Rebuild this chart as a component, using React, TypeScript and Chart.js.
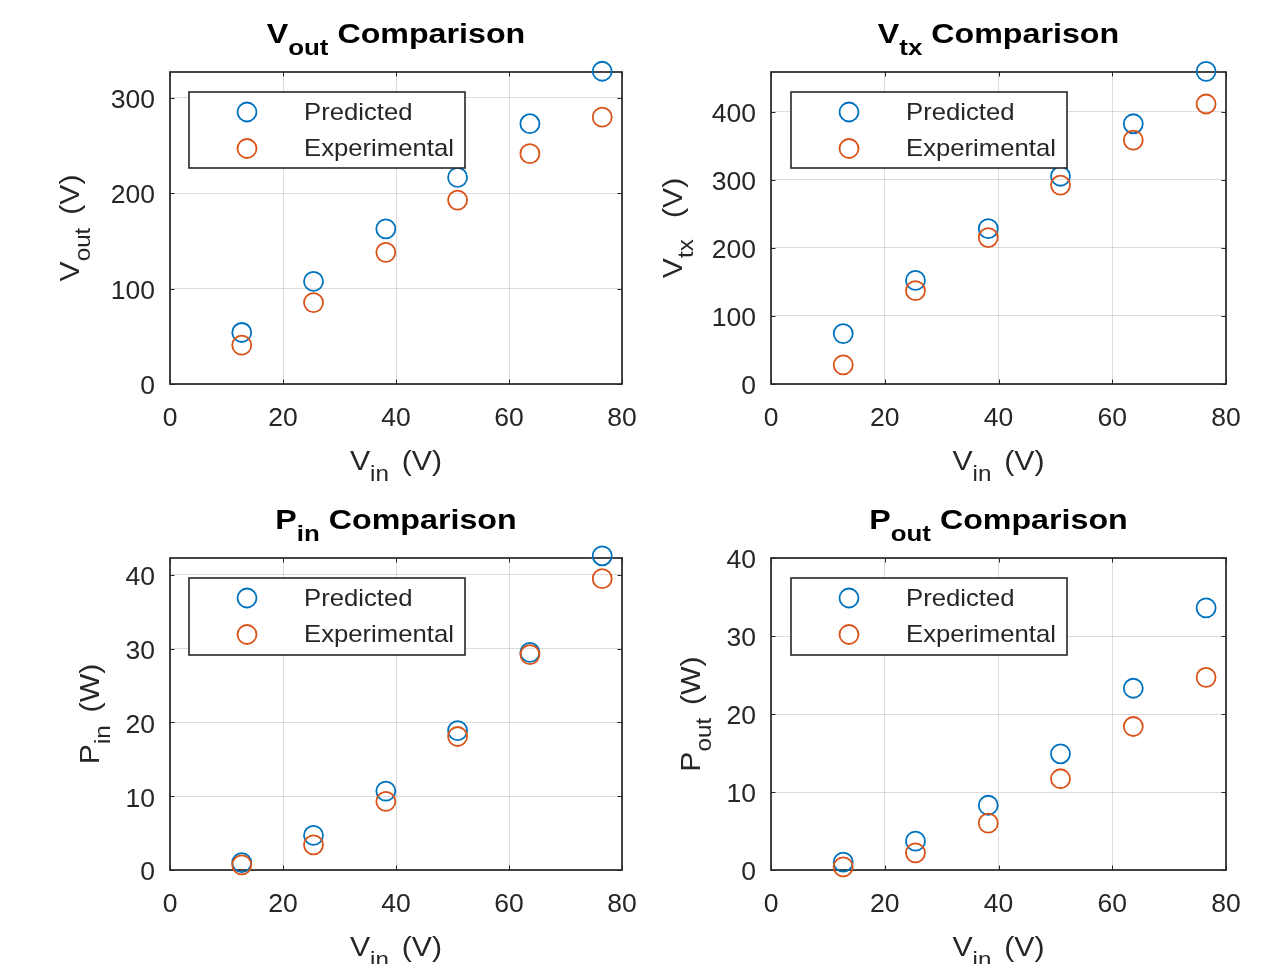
import React, { useEffect, useRef } from 'react';
import { Chart, registerables } from 'chart.js';

Chart.register(...registerables);

const W = 1277;
const H = 964;
const BLUE = '#0072BD';
const ORANGE = '#D95319';
const INK = '#262626';
const FONT = "'Liberation Sans', Arial, Helvetica, sans-serif";

// ---- data ----
const VIN = [12.7, 25.4, 38.2, 50.9, 63.7, 76.5];
const VOUT_PRED = [54, 107.5, 162.5, 216.5, 272.8, 327.8];
const VOUT_EXP = [40.7, 85.3, 138, 192.8, 241.4, 279.7];
const VTX_PRED = [74, 152, 228, 305, 382, 459];
const VTX_EXP = [28, 137, 215, 292, 358, 411];
const PIN_PRED = [1.0, 4.7, 10.7, 18.9, 29.5, 42.6];
const PIN_EXP = [0.7, 3.4, 9.3, 18.1, 29.2, 39.5];
const POUT_PRED = [1.0, 3.7, 8.3, 14.9, 23.3, 33.6];
const POUT_EXP = [0.4, 2.2, 6.0, 11.7, 18.4, 24.7];
const SERIES_LABELS = ['Predicted', 'Experimental'];
const X_MIN = 0;
const X_MAX = 80;
const X_STEP = 20;

type Part = { t: string; sub?: boolean };

interface PanelSpec {
  key: string;
  rect: { l: number; r: number; t: number; b: number };
  pred: number[];
  exp: number[];
  yMax: number;
  yStep: number;
  title: Part[];
  ylabel: Part[];
  ylabelX: number;
  legend: { l: number; t: number; w: number; h: number };
}

const PANELS: PanelSpec[] = [
  {
    key: 'vout',
    rect: { l: 170, r: 622, t: 72, b: 384 },
    pred: VOUT_PRED,
    exp: VOUT_EXP,
    yMax: 327,
    yStep: 100,
    title: [{ t: 'V' }, { t: 'out', sub: true }, { t: ' Comparison' }],
    ylabel: [{ t: 'V' }, { t: 'out', sub: true }, { t: ' (V)' }],
    ylabelX: 79,
    legend: { l: 189, t: 92, w: 276, h: 76 },
  },
  {
    key: 'vtx',
    rect: { l: 771, r: 1226, t: 72, b: 384 },
    pred: VTX_PRED,
    exp: VTX_EXP,
    yMax: 458,
    yStep: 100,
    title: [{ t: 'V' }, { t: 'tx', sub: true }, { t: ' Comparison' }],
    ylabel: [{ t: 'V' }, { t: 'tx', sub: true }, { t: '  (V)' }],
    ylabelX: 682,
    legend: { l: 791, t: 92, w: 276, h: 76 },
  },
  {
    key: 'pin',
    rect: { l: 170, r: 622, t: 558, b: 870 },
    pred: PIN_PRED,
    exp: PIN_EXP,
    yMax: 42.3,
    yStep: 10,
    title: [{ t: 'P' }, { t: 'in', sub: true }, { t: ' Comparison' }],
    ylabel: [{ t: 'P' }, { t: 'in', sub: true }, { t: ' (W)' }],
    ylabelX: 99,
    legend: { l: 189, t: 578, w: 276, h: 77 },
  },
  {
    key: 'pout',
    rect: { l: 771, r: 1226, t: 558, b: 870 },
    pred: POUT_PRED,
    exp: POUT_EXP,
    yMax: 40,
    yStep: 10,
    title: [{ t: 'P' }, { t: 'out', sub: true }, { t: ' Comparison' }],
    ylabel: [{ t: 'P' }, { t: 'out', sub: true }, { t: ' (W)' }],
    ylabelX: 700,
    legend: { l: 791, t: 578, w: 276, h: 77 },
  },
];

function drawRich(
  ctx: CanvasRenderingContext2D,
  parts: Part[],
  size: number,
  subSize: number,
  subDy: number,
  bold: boolean,
  stretch: number,
  color: string,
  subPad: number
) {
  ctx.save();
  ctx.scale(stretch, 1);
  const fontFor = (p: Part) => `${bold ? 'bold ' : ''}${p.sub ? subSize : size}px ${FONT}`;
  const widths = parts.map((p) => {
    ctx.font = fontFor(p);
    return ctx.measureText(p.t).width + (p.sub ? subPad : 0);
  });
  const total = widths.reduce((a, b) => a + b, 0);
  let x = -total / 2;
  ctx.textAlign = 'left';
  ctx.textBaseline = 'alphabetic';
  ctx.fillStyle = color;
  parts.forEach((p, i) => {
    ctx.font = fontFor(p);
    ctx.fillText(p.t, x, p.sub ? subDy : 0);
    x += widths[i];
  });
  ctx.restore();
}

function Panel({ spec }: { spec: PanelSpec }) {
  const ref = useRef<HTMLCanvasElement>(null);

  useEffect(() => {
    const canvas = ref.current;
    if (!canvas) return;
    const AXW = 60;
    const { rect } = spec;

    const decor = {
      id: 'matlabDecor',
      beforeDatasetsDraw(chart: any) {
        const { ctx, chartArea: a, scales } = chart;
        ctx.save();
        ctx.strokeStyle = INK;
        ctx.lineWidth = 1;
        const tl = 4.5;
        ctx.beginPath();
        scales.x.ticks.forEach((t: any) => {
          const px = Math.round(scales.x.getPixelForValue(t.value)) + 0.5;
          ctx.moveTo(px, a.bottom);
          ctx.lineTo(px, a.bottom - tl);
          ctx.moveTo(px, a.top);
          ctx.lineTo(px, a.top + tl);
        });
        scales.y.ticks.forEach((t: any) => {
          const py = Math.round(scales.y.getPixelForValue(t.value)) + 0.5;
          ctx.moveTo(a.left, py);
          ctx.lineTo(a.left + tl, py);
          ctx.moveTo(a.right, py);
          ctx.lineTo(a.right - tl, py);
        });
        ctx.stroke();
        ctx.lineWidth = 1.7;
        ctx.strokeRect(a.left, a.top, a.right - a.left, a.bottom - a.top);
        ctx.restore();
      },
      afterDatasetsDraw(chart: any) {
        const { ctx } = chart;
        const L = spec.legend;
        ctx.save();
        ctx.fillStyle = '#ffffff';
        ctx.fillRect(L.l, L.t, L.w, L.h);
        ctx.strokeStyle = INK;
        ctx.lineWidth = 1.6;
        ctx.strokeRect(L.l, L.t, L.w, L.h);
        const ds = chart.data.datasets;
        ds.forEach((d: any, i: number) => {
          const cy = L.t + 20 + i * 36.5;
          ctx.beginPath();
          ctx.strokeStyle = d.borderColor;
          ctx.lineWidth = 1.8;
          ctx.arc(L.l + 58, cy, 9.5, 0, Math.PI * 2);
          ctx.stroke();
          ctx.save();
          ctx.translate(L.l + 115, cy + 1);
          ctx.scale(1.07, 1);
          ctx.font = `24px ${FONT}`;
          ctx.fillStyle = INK;
          ctx.textAlign = 'left';
          ctx.textBaseline = 'middle';
          ctx.fillText(d.label, 0, 0);
          ctx.restore();
        });
        ctx.restore();
      },
      afterDraw(chart: any) {
        const { ctx, chartArea: a } = chart;
        const cx = (a.left + a.right) / 2;
        const cy = (a.top + a.bottom) / 2;
        // title
        ctx.save();
        ctx.translate(cx, a.top - 29);
        drawRich(ctx, spec.title, 28, 22.5, 12, true, 1.15, '#000000', 0);
        ctx.restore();
        // x label
        ctx.save();
        ctx.translate(cx, a.bottom + 86);
        drawRich(ctx, [{ t: 'V' }, { t: 'in', sub: true }, { t: ' (V)' }], 27.5, 22, 11, false, 1.1, INK, 4);
        ctx.restore();
        // y label
        ctx.save();
        ctx.translate(spec.ylabelX, cy);
        ctx.rotate(-Math.PI / 2);
        drawRich(ctx, spec.ylabel, 27.5, 22, 11, false, 1.1, INK, 4);
        ctx.restore();
      },
    };

    const tickFont = { family: FONT, size: 26.5, lineHeight: 1 };
    const gridOpts = { color: 'rgba(38,38,38,0.16)', lineWidth: 1, drawTicks: false };

    const chart = new Chart(canvas, {
      type: 'scatter',
      data: {
        datasets: [
          {
            label: SERIES_LABELS[0],
            data: VIN.map((x, i) => ({ x, y: spec.pred[i] })),
            borderColor: BLUE,
            backgroundColor: 'rgba(0,0,0,0)',
            pointStyle: 'circle',
            pointRadius: 9.5,
            pointBorderWidth: 1.8,
            showLine: false,
            clip: false,
            order: 1,
          },
          {
            label: SERIES_LABELS[1],
            data: VIN.map((x, i) => ({ x, y: spec.exp[i] })),
            borderColor: ORANGE,
            backgroundColor: 'rgba(0,0,0,0)',
            pointStyle: 'circle',
            pointRadius: 9.5,
            pointBorderWidth: 1.8,
            showLine: false,
            clip: false,
            order: 0,
          },
        ],
      },
      options: {
        animation: false,
        responsive: false,
        maintainAspectRatio: false,
        events: [],
        layout: {
          padding: {
            left: rect.l - AXW,
            right: W - rect.r,
            top: rect.t,
            bottom: H - rect.b - AXW,
          },
        },
        plugins: {
          legend: { display: false },
          tooltip: { enabled: false },
          title: { display: false },
        },
        scales: {
          x: {
            type: 'linear',
            min: X_MIN,
            max: X_MAX,
            afterFit: (s: any) => {
              s.height = AXW;
            },
            ticks: {
              stepSize: X_STEP,
              includeBounds: false,
              font: tickFont,
              color: INK,
              padding: 21,
              maxRotation: 0,
              autoSkip: false,
            },
            grid: gridOpts,
            border: { display: false },
          },
          y: {
            type: 'linear',
            min: 0,
            max: spec.yMax,
            afterFit: (s: any) => {
              s.width = AXW;
            },
            ticks: {
              stepSize: spec.yStep,
              includeBounds: false,
              font: tickFont,
              color: INK,
              padding: 15,
              labelOffset: 3,
              autoSkip: false,
            },
            grid: gridOpts,
            border: { display: false },
          },
        },
      } as any,
      plugins: [decor as any],
    });

    return () => chart.destroy();
  }, [spec]);

  return (
    <canvas
      ref={ref}
      width={W}
      height={H}
      style={{ position: 'absolute', left: 0, top: 0, width: W, height: H }}
    />
  );
}

export default function App() {
  return (
    <div style={{ position: 'absolute', left: 0, top: 0, width: W, height: H, background: '#ffffff', overflow: 'hidden' }}>
      {PANELS.map((p) => (
        <Panel key={p.key} spec={p} />
      ))}
    </div>
  );
}
